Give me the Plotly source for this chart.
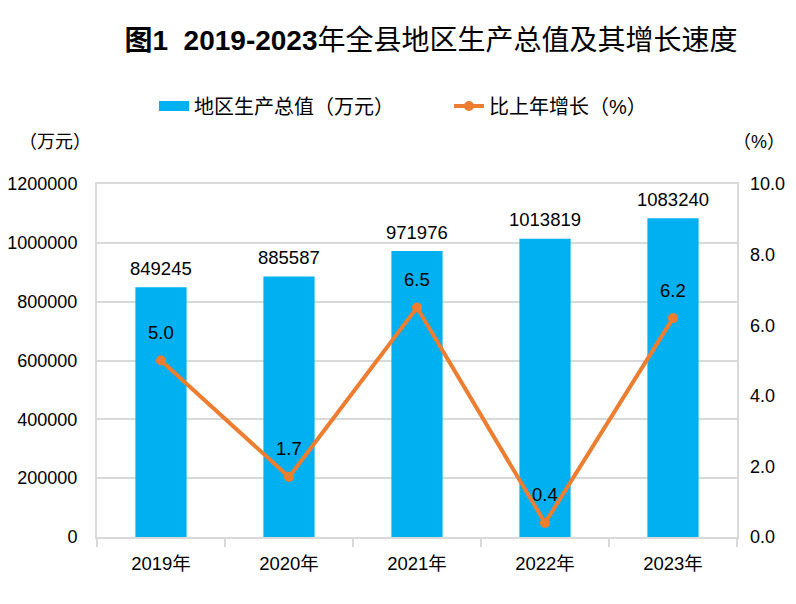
import plotly.graph_objects as go

# data
years = ["2019年", "2020年", "2021年", "2022年", "2023年"]
gdp = [849245, 885587, 971976, 1013819, 1083240]          # 地区生产总值（万元）
growth = [5.0, 1.7, 6.5, 0.4, 6.2]                         # 比上年增长（%）
left_ticks = [0, 200000, 400000, 600000, 800000, 1000000, 1200000]
right_ticks = [0, 2, 4, 6, 8, 10]

font_fam = "Liberation Sans, Noto Sans CJK SC, sans-serif"
grid_col = "#D9D9D9"
bar_col = "#00B0F0"
line_col = "#ED7D31"

# page body has an 8px margin, so the figure is drawn 8px smaller
W, H = 788, 596
L, R, T, B = 89, 59, 176, 67
pw, ph = W - L - R, H - T - B

fig = go.Figure()
fig.add_trace(go.Bar(x=years, y=gdp, name="地区生产总值（万元）", showlegend=False,
                     marker=dict(color=bar_col, line=dict(width=0)), width=0.4))
# legend-only stand-in so the bar swatch is a wide block like the original
fig.add_trace(go.Scatter(x=[years[0]], y=[None], name="地区生产总值（万元）", mode="lines",
                         line=dict(color=bar_col, width=12), hoverinfo="skip"))
fig.add_trace(go.Scatter(x=years, y=growth, name="比上年增长（%）", yaxis="y2",
                         mode="lines+markers",
                         line=dict(color=line_col, width=4),
                         marker=dict(color=line_col, size=10)))

# value labels
annos = []
for yr, v in zip(years, gdp):
    annos.append(dict(x=yr, y=v, xref="x", yref="y", text=str(v), showarrow=False,
                      yanchor="middle", yshift=19, font=dict(size=18.5, color="#000")))
for yr, g in zip(years, growth):
    annos.append(dict(x=yr, y=g, xref="x", yref="y2", text=f"{g:.1f}", showarrow=False,
                      yanchor="middle", yshift=28, font=dict(size=18.5, color="#000")))
annos.append(dict(x=(47 - L) / pw, y=(H - B - 134) / ph, xref="paper", yref="paper",
                  xanchor="center", yanchor="middle",
                  text="（万元）", showarrow=False, font=dict(size=18, color="#000")))
annos.append(dict(x=(751 - L) / pw, y=(H - B - 134) / ph, xref="paper", yref="paper",
                  xanchor="center", yanchor="middle",
                  text="（%）", showarrow=False, font=dict(size=18, color="#000")))

fig.update_layout(
    width=W, height=H,
    margin=dict(l=L, r=R, t=T, b=B, autoexpand=False),
    paper_bgcolor="white", plot_bgcolor="white",
    font=dict(family=font_fam, size=18, color="#000"),
    title=dict(text="<b>图1  2019-2023</b>年全县地区生产总值及其增长速度",
               x=423 / W, xanchor="center", y=1 - 32 / H, yanchor="middle",
               font=dict(size=28, color="#000", family="Liberation Sans, Noto Sans CJK SC")),
    legend=dict(orientation="h", x=(441 - L) / pw, xanchor="center", y=1 + (T - 98) / ph,
                yanchor="middle", font=dict(size=20), tracegroupgap=0, traceorder="normal",
                entrywidth=250, entrywidthmode="pixels"),
    showlegend=True,
    xaxis=dict(type="category", showline=True, linecolor=grid_col, linewidth=2, mirror=True,
               ticks="outside", tickson="boundaries", ticklen=8, tickcolor=grid_col, tickwidth=2,
               showgrid=False, tickfont=dict(size=18.5), ticklabelstandoff=9, automargin=False),
    yaxis=dict(range=[0, 1200000], tickvals=left_ticks, ticktext=[str(t) for t in left_ticks],
               showline=True, linecolor=grid_col, linewidth=2, mirror=True,
               showgrid=True, gridcolor=grid_col, gridwidth=2, zeroline=False,
               ticks="", ticklabelstandoff=14, tickfont=dict(size=18), automargin=False),
    yaxis2=dict(range=[0, 10], tickvals=right_ticks, ticktext=[f"{t:.1f}" for t in right_ticks],
                overlaying="y", side="right", showgrid=False, zeroline=False, showline=False,
                ticks="", ticklabelstandoff=12, tickfont=dict(size=18), automargin=False),
    annotations=annos,
)

fig.write_html("out.html")
